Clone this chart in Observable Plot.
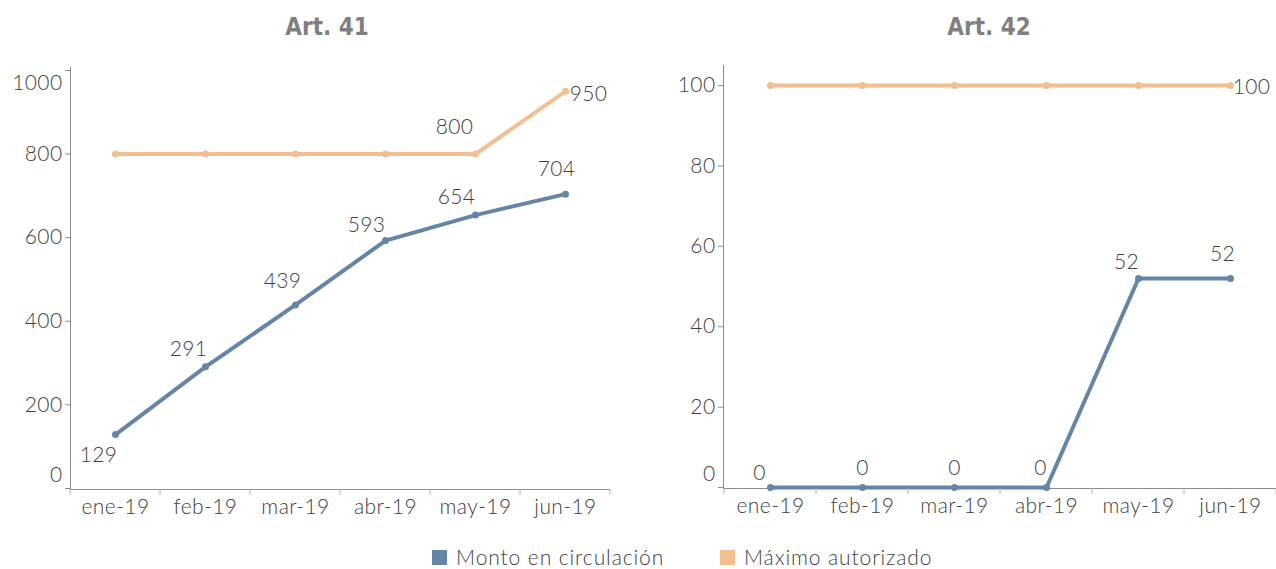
<!DOCTYPE html>
<html><head><meta charset="utf-8">
<script src="https://cdn.jsdelivr.net/npm/d3@7"></script>
<script src="https://cdn.jsdelivr.net/npm/@observablehq/plot@0.6"></script>
<style>
body{margin:0;background:#fff;font-family:Lato,"Open Sans",sans-serif;}
#wrap{width:1276px;height:569px;position:relative;overflow:hidden;background:#fff}
.title{position:absolute;top:13px;transform:translateX(-50%);font-family:"Liberation Sans Narrow","DejaVu Sans Condensed",sans-serif;font-stretch:condensed;font-weight:bold;font-size:24px;color:#7f7f7f;white-space:nowrap}
.panel{position:absolute;top:50px}
.legend{position:absolute;top:545px;left:0;width:1276px;height:24px;font-size:21px;font-weight:300;letter-spacing:0.9px;color:#404040}
.legend span.item{position:absolute;top:0;height:24px;line-height:24px;display:flex;align-items:center;white-space:nowrap}
.legend span.sw{display:inline-block;width:15px;height:15px;margin-right:9px}
</style>
</head><body>
<div id="wrap">
  <div class="title" style="left:327px">Art. 41</div>
  <div class="title" style="left:989px">Art. 42</div>
  <div class="panel" id="p1" style="left:0px"></div>
  <div class="panel" id="p2" style="left:638px"></div>
  <div class="legend" id="legend"></div>
</div>
<script>
// ---- data ----
const months = ["ene-19","feb-19","mar-19","abr-19","may-19","jun-19"];
const seriesNames = ["Monto en circulación","Máximo autorizado"];
const art41Monto = [129, 291, 439, 593, 654, 704];
const art41Maximo = [800, 800, 800, 800, 800, 950];
const art42Monto = [0, 0, 0, 0, 52, 52];
const art42Maximo = [100, 100, 100, 100, 100, 100];
const art41Ticks = [0, 200, 400, 600, 800, 1000];
const art42Ticks = [0, 20, 40, 60, 80, 100];

// ---- styles / layout ----
const BLUE = "#6585a6", ORANGE = "#f2bf90", TEXT = "#404040", AXIS = "#8c8c8c";
const FONT = {fontFamily: "Lato, 'Open Sans', sans-serif", fontSize: "21px", fontWeight: 300, letterSpacing: "0.4px"};
// per-point label offsets [dx, dy] (null = no label)
const lay41 = {
  monto: [[-17,21],[-17,-18],[-13,-24],[-19,-15],[-19,-18],[-9,-25]],
  maximo: [null,null,null,null,[-21,-27],[23,3]]
};
const lay42 = {
  monto: [[-11,-14],[0,-19],[0,-19],[-6,-19],[-12,-16],[-8,-24]],
  maximo: [null,null,null,null,null,[21,2]]
};

function panel(el, monto, maximo, ticks, ymax, lay, m, shiftTop) {
  const data = months.map((mo, i) => ({mo, a: monto[i], b: maximo[i]}));
  const top = ticks[ticks.length - 1];
  const labelMarks = [];
  data.forEach((d, i) => {
    const la = lay.monto[i];
    if (la) labelMarks.push(Plot.text([d], {x: "mo", y: "a", text: d => String(d.a), dx: la[0], dy: la[1], fill: TEXT}));
    const lb = lay.maximo[i];
    if (lb) labelMarks.push(Plot.text([d], {x: "mo", y: "b", text: d => String(d.b), dx: lb[0], dy: lb[1], fill: TEXT}));
  });
  const chart = Plot.plot({
    width: 638, height: 475,
    marginLeft: m.left, marginRight: m.right, marginTop: m.top, marginBottom: m.bottom,
    style: {...FONT, color: TEXT, background: "transparent", overflow: "visible"},
    x: {type: "band", domain: months, padding: 0, axis: null, label: null},
    y: {domain: [0, ymax], axis: null, label: null},
    marks: [
      Plot.axisY({ticks: ticks, tickSize: 5, tickPadding: 3, stroke: AXIS, fill: TEXT, label: null,
        tickFormat: d => (d === 0 || (shiftTop && d === top)) ? "" : String(d)}),
      Plot.text([0], {y: d => d, text: d => String(d), frameAnchor: "left", textAnchor: "end", dx: -8, dy: -13, fill: TEXT}),
      shiftTop ? Plot.text([top], {y: d => d, text: d => String(d), frameAnchor: "left", textAnchor: "end", dx: -8, dy: 13, fill: TEXT}) : null,
      Plot.frame({anchor: "left", stroke: AXIS}),
      Plot.ruleY([0], {stroke: AXIS, dy: 1}),
      Plot.axisX({tickSize: 0, tickPadding: 11, fill: TEXT, label: null}),
      Plot.line(data, {x: "mo", y: "b", stroke: ORANGE, strokeWidth: 4}),
      Plot.dot(data, {x: "mo", y: "b", fill: ORANGE, r: 3.5}),
      Plot.line(data, {x: "mo", y: "a", stroke: BLUE, strokeWidth: 4}),
      Plot.dot(data, {x: "mo", y: "a", fill: BLUE, r: 3.5}),
      ...labelMarks
    ]
  });
  // band-boundary ticks on the x axis
  const sx = chart.scale("x"), sy = chart.scale("y");
  const bw = sx.bandwidth;
  const bounds = months.map(mo => sx.apply(mo));
  bounds.push(sx.apply(months[months.length - 1]) + bw);
  const y0 = sy.apply(0) + 1;
  const svg = d3.select(chart);
  svg.append("g").selectAll("line").data(bounds).join("line")
    .attr("x1", d => d).attr("x2", d => d)
    .attr("y1", y0).attr("y2", y0 + 6)
    .attr("stroke", "#b0b0b0");
  document.getElementById(el).appendChild(chart);
}

panel("p1", art41Monto, art41Maximo, art41Ticks, 1007, lay41, {left: 70, right: 28, top: 17, bottom: 37}, true);
panel("p2", art42Monto, art42Maximo, art42Ticks, 105, lay42, {left: 85, right: 0, top: 15, bottom: 38}, false);

// legend
const leg = document.getElementById("legend");
const colors = [BLUE, ORANGE];
const lefts = [432, 720];
seriesNames.forEach((n, i) => {
  const s = document.createElement("span");
  s.className = "item";
  s.style.left = lefts[i] + "px";
  s.innerHTML = `<span class="sw" style="background:${colors[i]}"></span>${n}`;
  leg.appendChild(s);
});
</script>
</body></html>
